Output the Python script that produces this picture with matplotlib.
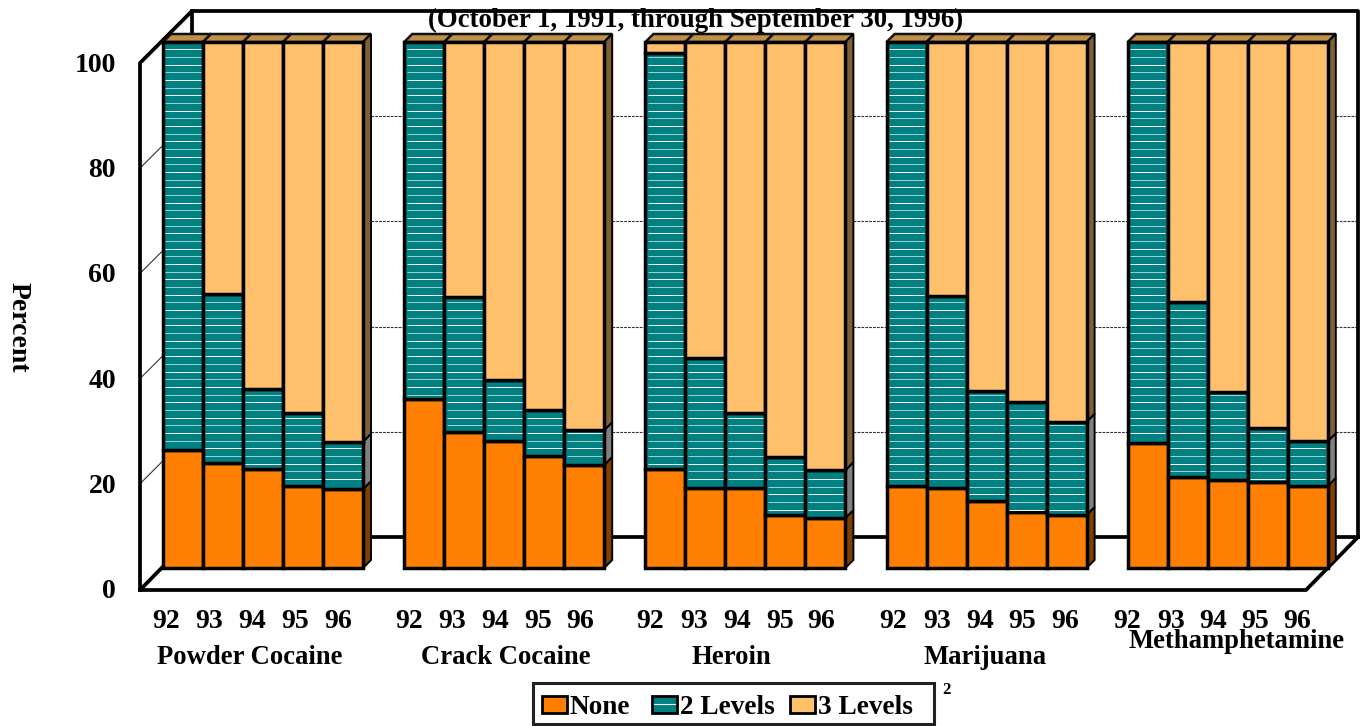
import matplotlib
matplotlib.use('Agg')
import matplotlib.pyplot as plt
import numpy as np
from matplotlib.patches import Polygon, Rectangle
from matplotlib.transforms import Affine2D

drugs = ['Powder Cocaine', 'Crack Cocaine', 'Heroin', 'Marijuana', 'Methamphetamine']
years = ['92', '93', '94', '95', '96']
none_pct = [[22.4, 20.0, 18.8, 15.6, 15.0],
            [32.1, 25.9, 24.1, 21.3, 19.6],
            [18.8, 15.2, 15.2, 10.1, 9.5],
            [15.6, 15.2, 12.7, 10.6, 10.1],
            [23.8, 17.3, 16.7, 16.3, 15.6]]
two_pct = [[77.6, 32.0, 15.2, 13.9, 9.0],
           [67.9, 25.6, 11.6, 8.7, 6.6],
           [79.1, 24.7, 14.3, 11.0, 9.1],
           [84.4, 36.5, 21.0, 21.0, 17.7],
           [76.2, 33.3, 16.8, 10.3, 8.5]]
three_pct = [[0.0, 48.0, 66.0, 70.5, 76.0],
             [0.0, 48.5, 64.3, 70.0, 73.8],
             [2.1, 60.1, 70.5, 78.9, 81.4],
             [0.0, 48.3, 66.3, 68.4, 72.2],
             [0.0, 49.4, 66.5, 73.4, 75.9]]
y_ticks = [0, 20, 40, 60, 80, 100]

ORANGE, TEAL, TAN = '#FF8000', '#008080', '#FFC06C'
plt.rcParams['font.family'] = ['Liberation Serif', 'DejaVu Serif']
plt.rcParams['font.weight'] = 'bold'

fig = plt.figure(figsize=(13.64, 7.26), dpi=100)
ax = fig.add_axes([0, 0, 1, 1])
ax.axis('off')
# bar units: 40 px per bar, 5.26 px per percent, bars start at y=568
ax.set_xlim(-183 / 40, (1364 - 183) / 40)
ax.set_ylim((568 - 726) / 5.26, 568 / 5.26)

px = Affine2D().scale(1, -1).translate(0, 726)  # picture pixels, y down


def wall(xs, ys, lw=2.7):
    ax.plot(xs, ys, color='k', lw=lw, transform=px, zorder=2, solid_capstyle='projecting')


# title goes under the top wall line, as in the original
ax.text(696, 20, '(October 1, 1991, through September 30, 1996)', transform=px,
        ha='center', va='center', fontsize=19.4, zorder=1)

# back and side walls with grid
wall([140, 140, 192, 1358, 1358, 1306, 140, 192, 1358], [590, 63, 11, 11, 537, 590, 590, 537, 537])
wall([192, 192], [11, 537])
for g in range(1, 5):
    gy = 537 - 105.2 * g
    ax.plot([140, 192], [gy + 52, gy], color='#333333', lw=0.8, transform=px, zorder=1)
    ax.plot([192, 1358], [gy, gy], color='#333333', lw=0.8, ls=(0, (2.5, 1)), transform=px, zorder=1)

dx, dy = 8 / 40, 8 / 5.26
w = 1.0
for g, drug in enumerate(drugs):
    for b in range(5):
        pos = g * 6.03 + b
        n, t, h = none_pct[g][b], two_pct[g][b], three_pct[g][b]
        ax.bar(pos, n, w, color=ORANGE, edgecolor='k', lw=2.5, zorder=3)
        ax.bar(pos, t, w, bottom=n, color=TEAL, edgecolor='k', lw=2.5, zorder=3)
        # stripes in the 2 Levels segment, every other one paler
        stripes = np.arange(100 - 1.4, 0, -7.67 / 5.26)
        keep = (stripes > n + 0.5) & (stripes < n + t - 0.5)
        ax.hlines(stripes[keep][::1], pos - w / 2 + 0.06, pos + w / 2 - 0.06,
                  colors=np.where(np.arange(len(stripes))[keep] % 2 == 0, 'white', '#A6D2D0').tolist(),
                  lw=0.7, zorder=4)
        if h > 0:
            ax.bar(pos, h, w, bottom=n + t, color=TAN, edgecolor='k', lw=2.5, zorder=3)
        # top face
        left, right = pos - w / 2, pos + w / 2
        ax.add_patch(Polygon([(left, 100), (right, 100), (right + dx, 100 + dy), (left + dx, 100 + dy)],
                             fc='#BF9048', ec='#111111', lw=1.8, zorder=2.5))
    # side face of the last bar in the group
    right = g * 6.03 + 4 + w / 2
    n, t = none_pct[g][4], two_pct[g][4]
    for lo, hi, col in [(0, n, '#804000'), (n, n + t, '#808080'), (n + t, 100, '#806030')]:
        ax.add_patch(Polygon([(right, lo), (right + dx, lo + dy), (right + dx, hi + dy), (right, hi)],
                             fc=col, ec='k', lw=1.4, zorder=2.6))

# axis labels
for v in y_ticks:
    ax.text(116, 592 - 5.27 * v, str(v), transform=px, ha='right', va='center', fontsize=20)
year_x = [[166, 209, 252, 295, 338], [409, 452, 495, 538, 580], [650, 694, 737, 780, 821],
          [893, 937, 980, 1022, 1065], [1127, 1171, 1213, 1255, 1297]]
for g in range(5):
    for b in range(5):
        ax.text(year_x[g][b], 622, years[b], transform=px, ha='center', va='center', fontsize=20)
name_x = [250, 506, 731, 985, 1237]
name_y = [658, 658, 658, 658, 641]
for g, drug in enumerate(drugs):
    ax.text(name_x[g], name_y[g], drug, transform=px, ha='center', va='center', fontsize=19.2, zorder=6)
ax.text(18, 327, 'Percent', transform=px, rotation=-90, ha='center', va='center', fontsize=20)

# legend box
ax.add_patch(Rectangle((533, 683), 401, 41, fc='white', ec='#222222', lw=2.2, transform=px, zorder=5))
for lx, col, lab in [(542, ORANGE, 'None'), (652, TEAL, '2 Levels'), (790, TAN, '3 Levels')]:
    ax.add_patch(Rectangle((lx, 696), 25, 17, fc=col, ec='k', lw=2, transform=px, zorder=6))
    if col == TEAL:
        ax.plot([lx + 2, lx + 23], [704, 704], color='white', lw=0.8, transform=px, zorder=7)
    ax.text(lx + 28, 707, lab, transform=px, ha='left', va='center', fontsize=19.6, zorder=6)
ax.text(946, 690, '2', transform=px, ha='center', va='center', fontsize=12)

fig.savefig('out.png', dpi=100)
